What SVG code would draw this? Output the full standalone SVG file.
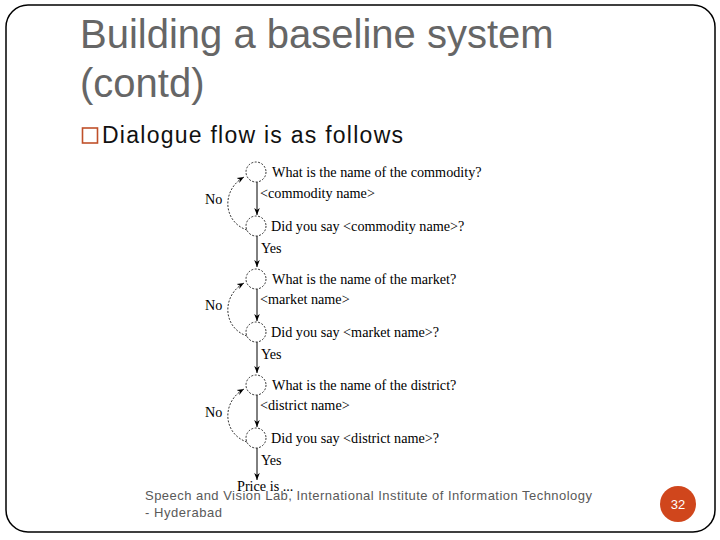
<svg xmlns="http://www.w3.org/2000/svg" width="720" height="540" viewBox="0 0 720 540">
<style>
.title{font-family:"Liberation Sans",Arial,sans-serif;font-size:40px;fill:#666666}
.bullet{font-family:"Liberation Sans",Arial,sans-serif;font-size:23px;fill:#111111}
.t{font-family:"Liberation Serif","Times New Roman",serif;font-size:14.2px;fill:#000}
.foot{font-family:"Liberation Sans",Arial,sans-serif;font-size:13px;fill:#595959}
.st{fill:#fff;stroke:#000;stroke-width:0.8;stroke-dasharray:2 1.5}
.flow{fill:none;stroke:#000;stroke-width:1}
.back{fill:none;stroke:#000;stroke-width:0.8;stroke-dasharray:2 1.5}
</style>
<defs>
<marker id="ah" viewBox="0 0 10 10" refX="10" refY="5" markerWidth="7" markerHeight="7" orient="auto" markerUnits="userSpaceOnUse">
<path d="M0,1 L10,5 L0,9 L3,5 z" fill="#000"/>
</marker>
</defs>
<rect x="6" y="5" width="709" height="527" rx="22" ry="22" fill="#fff" stroke="#000" stroke-width="1.5"/>
<g id="title">
<text class="title" x="80" y="48">Building a baseline system</text>
<text class="title" x="80" y="97">(contd)</text>
</g>
<g id="bullet">
<rect x="82.5" y="128" width="15" height="15" fill="none" stroke="#C0502A" stroke-width="1.6"/>
<text class="bullet" x="102" y="143" textLength="301" lengthAdjust="spacing">Dialogue flow is as follows</text>
</g>
<g id="connectors">
<line class="flow" x1="257" y1="182" x2="257" y2="215" marker-end="url(#ah)"/>
<line class="flow" x1="257" y1="236" x2="257" y2="267" marker-end="url(#ah)"/>
<path class="back" d="M247,230 C223,222 221,190 244,177" marker-end="url(#ah)"/>
<line class="flow" x1="257" y1="289" x2="257" y2="321" marker-end="url(#ah)"/>
<line class="flow" x1="257" y1="342" x2="257" y2="373" marker-end="url(#ah)"/>
<path class="back" d="M247,336 C223,328 221,296 244,283" marker-end="url(#ah)"/>
<line class="flow" x1="257" y1="395" x2="257" y2="427" marker-end="url(#ah)"/>
<line class="flow" x1="257" y1="448" x2="257" y2="480" marker-end="url(#ah)"/>
<path class="back" d="M247,442 C223,434 221,402 244,389" marker-end="url(#ah)"/>
</g>
<g id="q1"><circle class="st" cx="256" cy="172" r="10"/><text class="t" x="272" y="177">What is the name of the commodity?</text></g>
<g id="a1"><text class="t" x="260" y="198">&lt;commodity name&gt;</text></g>
<g id="c1"><circle class="st" cx="256" cy="226" r="10"/><text class="t" x="271" y="231">Did you say &lt;commodity name&gt;?</text></g>
<g id="y1"><text class="t" x="261" y="253">Yes</text></g>
<g id="n1"><text class="t" x="205" y="204">No</text></g>
<g id="q2"><circle class="st" cx="256" cy="279" r="10"/><text class="t" x="272" y="284">What is the name of the market?</text></g>
<g id="a2"><text class="t" x="260" y="304">&lt;market name&gt;</text></g>
<g id="c2"><circle class="st" cx="256" cy="332" r="10"/><text class="t" x="271" y="337">Did you say &lt;market name&gt;?</text></g>
<g id="y2"><text class="t" x="261" y="359">Yes</text></g>
<g id="n2"><text class="t" x="205" y="310">No</text></g>
<g id="q3"><circle class="st" cx="256" cy="385" r="10"/><text class="t" x="272" y="390">What is the name of the district?</text></g>
<g id="a3"><text class="t" x="260" y="410">&lt;district name&gt;</text></g>
<g id="c3"><circle class="st" cx="256" cy="438" r="10"/><text class="t" x="271" y="443">Did you say &lt;district name&gt;?</text></g>
<g id="y3"><text class="t" x="261" y="465">Yes</text></g>
<g id="n3"><text class="t" x="205" y="417">No</text></g>
<g id="end"><text class="t" x="237" y="491">Price is ...</text></g>
<g id="footer">
<text class="foot" x="145" y="500" textLength="447" lengthAdjust="spacing">Speech and Vision Lab, International Institute of Information Technology</text>
<text class="foot" x="145" y="517" textLength="77" lengthAdjust="spacing">- Hyderabad</text>
</g>
<g id="page">
<circle cx="678" cy="504" r="18" fill="#D0461C"/>
<text x="678" y="509" text-anchor="middle" font-family="Liberation Sans, Arial, sans-serif" font-size="13" fill="#fff">32</text>
</g>
</svg>
